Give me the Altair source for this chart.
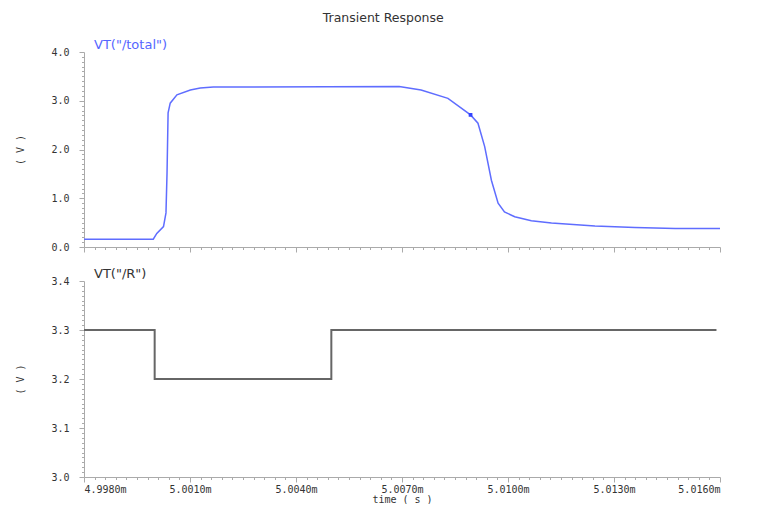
import altair as alt
import pandas as pd

# ---- data ----
time_total = [4.99800, 4.99996, 5.00006, 5.00025, 5.00032, 5.00035, 5.00038, 5.00044,
              5.00063, 5.00101, 5.00129, 5.00166, 5.00692, 5.00754, 5.00830, 5.00894,
              5.00915, 5.00934, 5.00953, 5.00972, 5.00990, 5.01019, 5.01066, 5.01123,
              5.01246, 5.01359, 5.01473, 5.01600]
v_total = [0.16, 0.16, 0.28, 0.42, 0.70, 1.52, 2.75, 2.95,
           3.12, 3.22, 3.26, 3.28, 3.29, 3.22, 3.05, 2.71,
           2.54, 2.06, 1.37, 0.90, 0.72, 0.62, 0.54, 0.49,
           0.43, 0.40, 0.38, 0.38]
marker_time = [5.00894]
marker_v = [2.71]

time_r = [4.9980, 5.0000, 5.0000, 5.0050, 5.0050, 5.0159]
v_r = [3.3, 3.3, 3.2, 3.2, 3.3, 3.3]

x_ticks = [round(4.998 + i * 0.0003, 4) for i in range(61)]
y_top_ticks = [round(i * 0.1, 1) for i in range(41)]
y_bot_ticks = [round(3.0 + i * 0.01, 2) for i in range(41)]

df_total = pd.DataFrame({"t": time_total, "v": v_total, "o": list(range(len(time_total)))})
df_mark = pd.DataFrame({"t": marker_time, "v": marker_v})
df_r = pd.DataFrame({"t": time_r, "v": v_r, "o": list(range(len(time_r)))})

MONO = "DejaVu Sans Mono"
SANS = "DejaVu Sans"
AXC = "#aaaaaa"
LBC = "#333333"
W, H1, H2 = 636, 195, 196

x_major_test = "round(datum.value*10000) % 30 === 0"


def x_axis(show_labels):
    return alt.Axis(
        values=x_ticks,
        labels=show_labels,
        labelExpr=f"{x_major_test} ? format(datum.value, '.4f') + 'm' : ''",
        labelOverlap=False,
        labelFont=MONO, labelFontSize=10, labelColor=LBC, labelPadding=2,
        tickSize={"condition": {"test": x_major_test, "value": 5}, "value": 2.5},
        tickColor=AXC, domainColor=AXC, grid=False,
        title="time ( s )" if show_labels else None,
        titleFont=MONO, titleFontSize=10, titleFontWeight="normal", titleColor=LBC,
        titlePadding=0,
    )


def y_axis(values, test, fmt):
    return alt.Axis(
        values=values,
        labelExpr=f"{test} ? format(datum.value, '{fmt}') : ''",
        labelOverlap=False,
        labelFont=MONO, labelFontSize=10, labelColor=LBC, labelPadding=10,
        tickSize={"condition": {"test": test, "value": 5}, "value": 2.5},
        tickColor=AXC, domainColor=AXC, grid=False,
        title="( V )", titleFont=MONO, titleFontSize=10, titleFontWeight="normal",
        titleColor=LBC, titlePadding=25,
    )


xs = alt.Scale(domain=[4.998, 5.016], nice=False, zero=False)
top_x = alt.X("t:Q", scale=xs, axis=x_axis(False))
top_y = alt.Y("v:Q", scale=alt.Scale(domain=[0, 4], nice=False),
              axis=y_axis(y_top_ticks, "round(datum.value*10) % 10 === 0", ".1f"))

top_line = alt.Chart(df_total).mark_line(color="#5f6dff", strokeWidth=1.5, clip=True).encode(
    x=top_x, y=top_y, order="o:Q",
)
top_mark = alt.Chart(df_mark).mark_point(shape="square", filled=True, size=14,
                                          color="#3344ff", opacity=1).encode(
    x=top_x, y=top_y)

top = alt.layer(top_line, top_mark).properties(
    width=W, height=H1,
    title=alt.TitleParams('VT("/total")', anchor="start", frame="group", dx=10, dy=8,
                          offset=3, font=SANS, fontSize=13, fontWeight="normal",
                          color="#5566ff"),
)

bottom = alt.Chart(df_r).mark_line(color="#666666", strokeWidth=2, clip=True).encode(
    x=alt.X("t:Q", scale=xs, axis=x_axis(True)),
    y=alt.Y("v:Q", scale=alt.Scale(domain=[3.0, 3.4], nice=False, zero=False),
            axis=y_axis(y_bot_ticks, "round(datum.value*100) % 10 === 0", ".1f")),
    order="o:Q",
).properties(
    width=W, height=H2,
    title=alt.TitleParams('VT("/R")', anchor="start", frame="group", dx=10, dy=8,
                          offset=3, font=SANS, fontSize=13, fontWeight="normal",
                          color="#333333"),
)

chart = alt.vconcat(top, bottom, spacing=15).properties(
    title=alt.TitleParams("Transient Response", anchor="middle", font=SANS,
                          fontSize=12.5, fontWeight="normal", color="#333333",
                          offset=15, dx=15),
    padding={"left": 7, "top": 3, "right": 5, "bottom": 0},
).configure_view(stroke=None)

chart.save("out.html", embed_options={"renderer": "svg", "actions": False})
